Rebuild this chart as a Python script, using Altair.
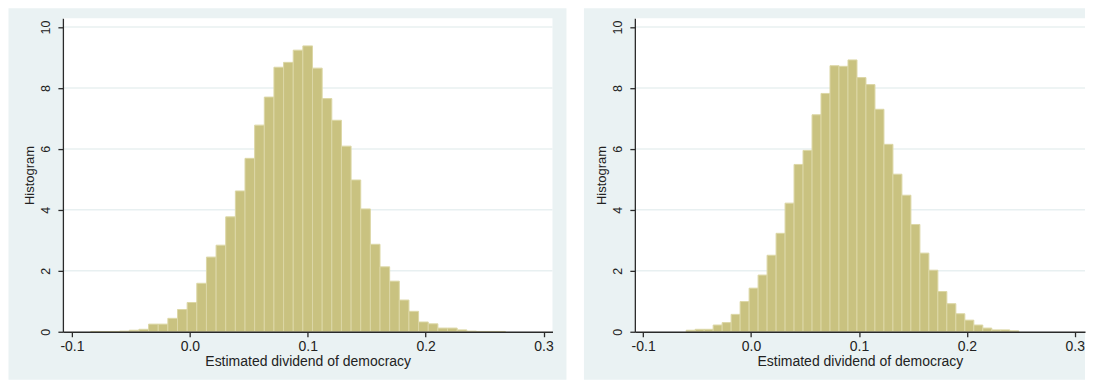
import altair as alt
import pandas as pd

# ---- data ----
X_TITLE = "Estimated dividend of democracy"
Y_TITLE = "Histogram"
X_TICKS = [-0.1, 0.0, 0.1, 0.2, 0.3]
Y_TICKS = [0, 2, 4, 6, 8, 10]
GRID_VALUES = [2, 4, 6, 8, 10]

LEFT_FIRST_EDGE = -0.0841
LEFT_BIN_WIDTH = 0.00818
LEFT_DENSITY = [0.01, 0.0, 0.01, 0.02, 0.05, 0.08, 0.25, 0.25, 0.44, 0.73,
                0.96, 1.59, 2.45, 2.84, 3.77, 4.62, 5.69, 6.78, 7.70, 8.68,
                8.84, 9.24, 9.38, 8.65, 7.65, 6.94, 6.09, 4.98, 4.03, 2.87,
                2.13, 1.66, 1.04, 0.67, 0.32, 0.26, 0.12, 0.12, 0.06, 0.02,
                0.01, 0.01, 0.01]

RIGHT_FIRST_EDGE = -0.0601
RIGHT_BIN_WIDTH = 0.00833
RIGHT_DENSITY = [0.05, 0.08, 0.08, 0.22, 0.30, 0.57, 0.99, 1.43, 1.86, 2.51,
                 3.23, 4.22, 5.49, 5.95, 7.12, 7.82, 8.73, 8.71, 8.92, 8.34,
                 8.11, 7.30, 6.15, 5.17, 4.48, 3.52, 2.58, 2.02, 1.32, 0.92,
                 0.59, 0.38, 0.22, 0.12, 0.06, 0.06, 0.03]

LEFT_X_DOMAIN = [-0.1077, 0.3076]
RIGHT_X_DOMAIN = [-0.1077, 0.3095]
Y_DOMAIN = [0, 10.285]

# ---- style ----
FONT = "Liberation Sans"
PANEL = "#eaf2f3"
GRID = "#e8f0f1"
BAR_FILL = "#c9c280"
BAR_STROKE = "#dcd7a6"
AXIS_COLOR = "#2a2a2a"
TEXT_COLOR = "#222222"
HEIGHT = 314


def hist_frame(first_edge, width, dens):
    return pd.DataFrame({
        "x0": [first_edge + i * width for i in range(len(dens))],
        "x1": [first_edge + (i + 1) * width for i in range(len(dens))],
        "density": dens,
        "base": [0.0] * len(dens),
    })


def panel(df, width, xdomain, bg_left, bg_right):
    xaxis = alt.Axis(values=X_TICKS, title=X_TITLE, grid=False,
                     labelExpr="replace(format(datum.value, '.1f'), '\u2212', '-')",
                     domainColor=AXIS_COLOR, domainWidth=1.3,
                     tickColor=AXIS_COLOR, tickWidth=1.3, tickSize=5,
                     labelFont=FONT, labelFontSize=14, labelColor=TEXT_COLOR,
                     labelPadding=3, labelFlush=False, labelOverlap=False,
                     titleFont=FONT, titleFontSize=14, titleFontWeight="normal",
                     titleColor=TEXT_COLOR, titlePadding=1, zindex=1)
    yaxis = alt.Axis(values=Y_TICKS, title=Y_TITLE, grid=False, format="d",
                     domainColor=AXIS_COLOR, domainWidth=1.3,
                     tickColor=AXIS_COLOR, tickWidth=1.3, tickSize=5,
                     labelAngle=270, labelAlign="center", labelBaseline="bottom",
                     labelFont=FONT, labelFontSize=12.5, labelColor=TEXT_COLOR,
                     labelPadding=5, labelOverlap=False,
                     titleFont=FONT, titleFontSize=13, titleFontWeight="normal",
                     titleColor=TEXT_COLOR, titlePadding=3, zindex=1)
    xscale = alt.Scale(domain=xdomain, nice=False, zero=False)
    yscale = alt.Scale(domain=Y_DOMAIN, nice=False)

    one = pd.DataFrame({"k": [0]})
    bg = alt.Chart(one).mark_rect(color=PANEL).encode(
        x=alt.value(bg_left), x2=alt.value(width + bg_right),
        y=alt.value(-10), y2=alt.value(HEIGHT + 48))
    white = alt.Chart(one).mark_rect(color="white").encode(
        x=alt.value(0), x2=alt.value(width),
        y=alt.value(0), y2=alt.value(HEIGHT))
    grid = alt.Chart(pd.DataFrame({"density": GRID_VALUES})).mark_rule(
        color=GRID, strokeWidth=1.5).encode(
        y=alt.Y("density:Q", scale=yscale, axis=yaxis))
    bars = alt.Chart(df).mark_rect(fill=BAR_FILL, stroke=BAR_STROKE,
                                   strokeWidth=1).encode(
        x=alt.X("x0:Q", scale=xscale, axis=xaxis),
        x2="x1:Q",
        y=alt.Y("density:Q", scale=yscale, axis=yaxis),
        y2="base:Q")
    return alt.layer(bg, white, grid, bars).properties(width=width, height=HEIGHT)


left = panel(hist_frame(LEFT_FIRST_EDGE, LEFT_BIN_WIDTH, LEFT_DENSITY),
             490.5, LEFT_X_DOMAIN, -54.5, 14)
right = panel(hist_frame(RIGHT_FIRST_EDGE, RIGHT_BIN_WIDTH, RIGHT_DENSITY),
              451, RIGHT_X_DOMAIN, -51, 0)

chart = alt.hconcat(left, right, spacing=17).properties(
    padding=0, background="white"
).configure_view(stroke=None)

chart.save("out.html", embed_options={"renderer": "svg", "actions": False})
